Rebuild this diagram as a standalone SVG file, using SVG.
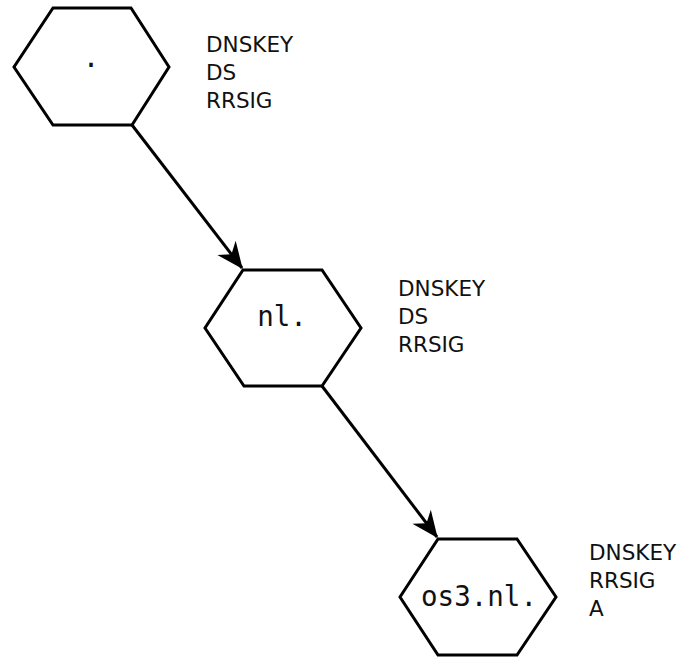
<svg xmlns="http://www.w3.org/2000/svg" width="680" height="659" viewBox="0 0 680 659">
<style>
.hex{fill:#fff;stroke:#000;stroke-width:3;stroke-linejoin:miter}
.lbl{font-family:"DejaVu Sans Mono","Liberation Mono",monospace;font-size:27.5px;fill:#111;text-anchor:middle}
.rr{font-family:"DejaVu Sans","Liberation Sans",sans-serif;font-size:21.5px;fill:#111}
.edge{stroke:#000;stroke-width:3;fill:none}
</style>
<defs>
<marker id="arr" markerUnits="userSpaceOnUse" markerWidth="30" markerHeight="30" viewBox="-24 -12 26 24" refX="0" refY="0" orient="auto">
<path d="M1,0 L-22,-10 L-15,0 L-22,10 z" fill="#000"/>
</marker>
</defs>
<g id="connectors">
<line class="edge" x1="132" y1="125" x2="242" y2="268" marker-end="url(#arr)"/>
<line class="edge" x1="322" y1="386" x2="437" y2="537" marker-end="url(#arr)"/>
</g>
<g id="root">
<polygon class="hex" points="53,8 131,8 169,67 132,125 53,125 14,67"/>
<text class="lbl" x="91" y="67">.</text>
<text class="rr" x="206" y="52">DNSKEY</text>
<text class="rr" x="206" y="80">DS</text>
<text class="rr" x="206" y="108">RRSIG</text>
</g>
<g id="nl">
<polygon class="hex" points="243,270 322,270 361,328 322,386 244,386 205,328"/>
<text class="lbl" x="282" y="326">nl.</text>
<text class="rr" x="398" y="296">DNSKEY</text>
<text class="rr" x="398" y="324">DS</text>
<text class="rr" x="398" y="352">RRSIG</text>
</g>
<g id="os3">
<polygon class="hex" points="438,539 517,539 556,597 517,655 438,655 400,597"/>
<text class="lbl" x="479" y="606">os3.nl.</text>
<text class="rr" x="589" y="560">DNSKEY</text>
<text class="rr" x="589" y="588">RRSIG</text>
<text class="rr" x="589" y="616">A</text>
</g>
</svg>
